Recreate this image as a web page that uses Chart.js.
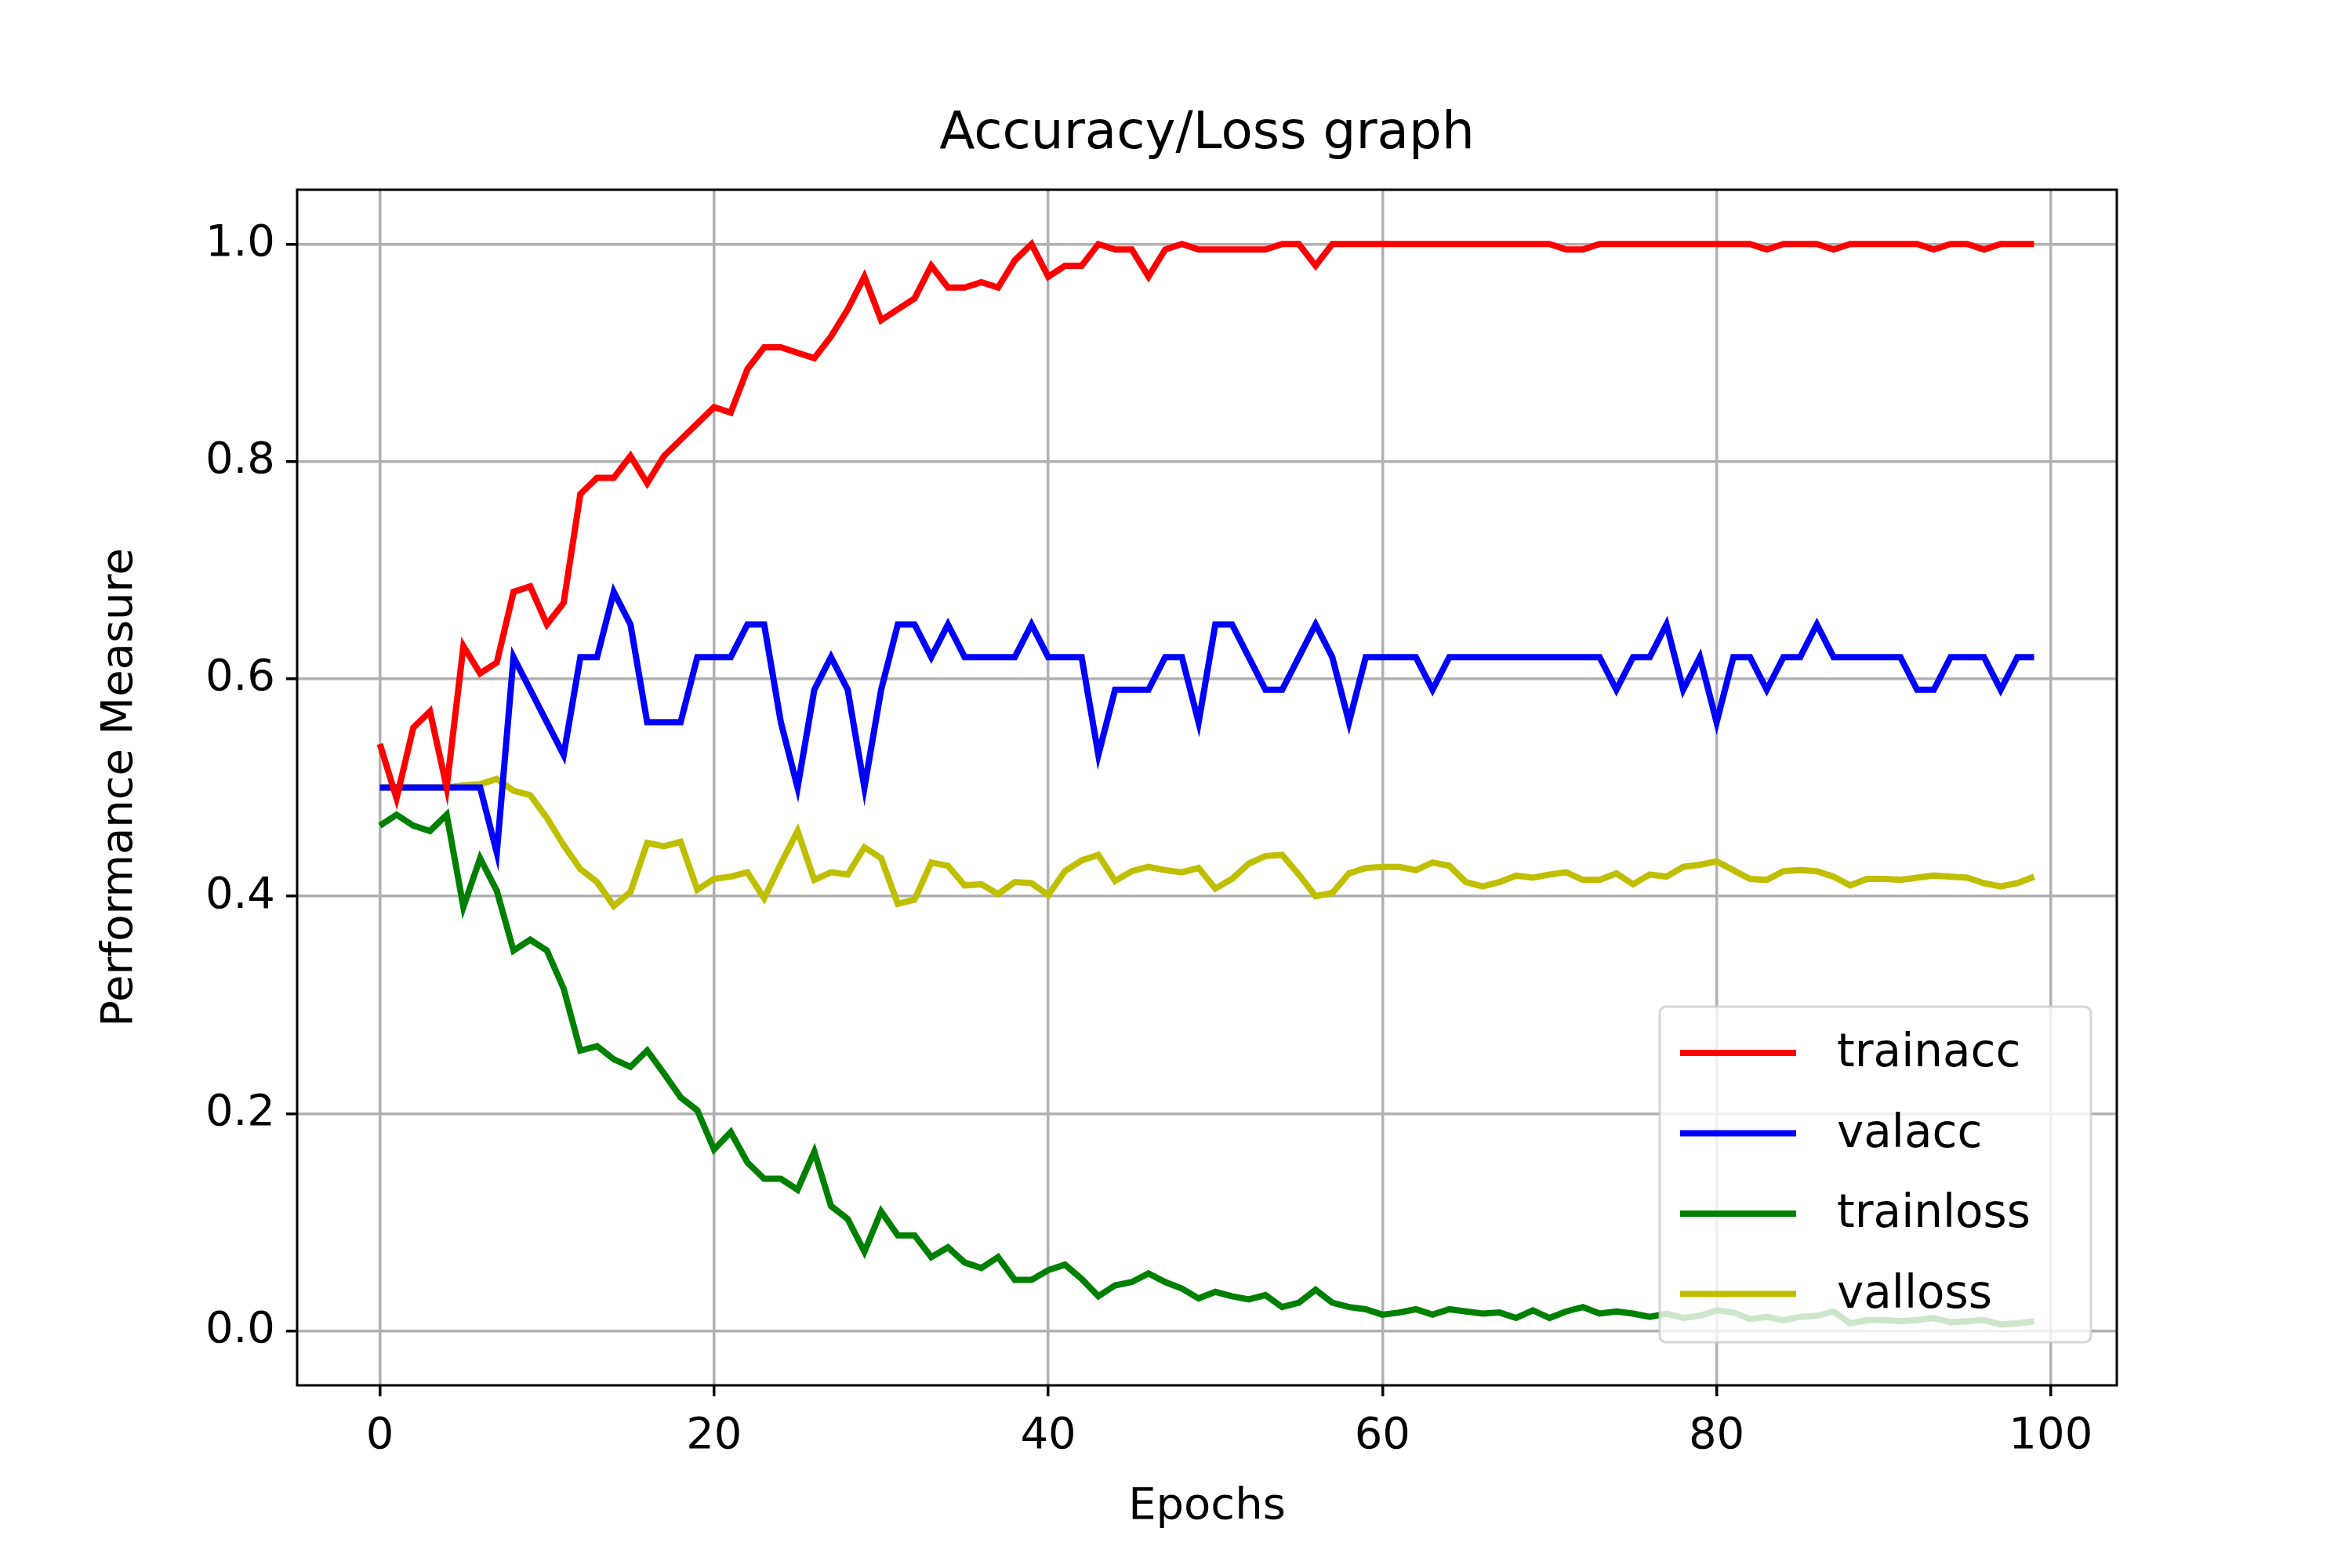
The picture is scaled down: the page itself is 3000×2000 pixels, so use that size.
<!DOCTYPE html>
<html><head><meta charset="utf-8">
<script src="https://cdn.jsdelivr.net/npm/chart.js@4"></script>
<style>html,body{margin:0;padding:0;background:#fff}#w{width:3000px;height:2000px}</style>
</head><body><div id="w"><canvas id="c" width="3000" height="2000"></canvas></div>
<script>
const epochs = Array.from({length:100},(_, i)=>i);
const trainacc = [0.54,0.49,0.555,0.57,0.50,0.63,0.605,0.615,0.68,0.685,0.65,0.67,0.77,0.785,0.785,0.805,0.78,0.805,0.82,0.835,0.85,0.845,0.885,0.905,0.905,0.9,0.895,0.915,0.94,0.97,0.93,0.94,0.95,0.98,0.96,0.96,0.965,0.96,0.985,1.0,0.97,0.98,0.98,1.0,0.995,0.995,0.97,0.995,1.0,0.995,0.995,0.995,0.995,0.995,1.0,1.0,0.98,1,1,1,1,1,1,1,1,1,1,1,1,1,1,0.995,0.995,1,1,1,1,1,1,1,1,1,1,0.995,1,1,1,0.995,1,1,1,1,1,0.995,1,1,0.995,1,1,1];
const valacc = [0.5,0.5,0.5,0.5,0.5,0.5,0.5,0.44,0.62,0.59,0.56,0.53,0.62,0.62,0.68,0.65,0.56,0.56,0.56,0.62,0.62,0.62,0.65,0.65,0.56,0.5,0.59,0.62,0.59,0.5,0.59,0.65,0.65,0.62,0.65,0.62,0.62,0.62,0.62,0.65,0.62,0.62,0.62,0.53,0.59,0.59,0.59,0.62,0.62,0.56,0.65,0.65,0.62,0.59,0.59,0.62,0.65,0.62,0.56,0.62,0.62,0.62,0.62,0.59,0.62,0.62,0.62,0.62,0.62,0.62,0.62,0.62,0.62,0.62,0.59,0.62,0.62,0.65,0.59,0.62,0.56,0.62,0.62,0.59,0.62,0.62,0.65,0.62,0.62,0.62,0.62,0.62,0.59,0.59,0.62,0.62,0.62,0.59,0.62,0.62];
const trainloss = [0.465,0.475,0.465,0.46,0.475,0.39,0.435,0.405,0.35,0.36,0.35,0.315,0.258,0.262,0.25,0.243,0.258,0.237,0.215,0.203,0.167,0.183,0.155,0.14,0.14,0.13,0.165,0.115,0.103,0.073,0.11,0.088,0.088,0.068,0.077,0.063,0.058,0.068,0.047,0.047,0.056,0.061,0.048,0.032,0.042,0.045,0.053,0.045,0.039,0.03,0.036,0.032,0.029,0.033,0.022,0.026,0.038,0.026,0.022,0.02,0.015,0.017,0.02,0.015,0.02,0.018,0.016,0.017,0.012,0.019,0.012,0.018,0.022,0.016,0.018,0.016,0.013,0.016,0.012,0.014,0.019,0.017,0.011,0.013,0.01,0.013,0.014,0.018,0.007,0.01,0.01,0.009,0.01,0.012,0.008,0.009,0.01,0.006,0.007,0.009];
const valloss = [0.5,0.5,0.5,0.5,0.5,0.502,0.503,0.508,0.497,0.493,0.472,0.447,0.425,0.413,0.391,0.404,0.449,0.446,0.45,0.406,0.416,0.418,0.422,0.398,0.43,0.46,0.415,0.422,0.42,0.445,0.435,0.393,0.397,0.431,0.428,0.41,0.411,0.402,0.413,0.412,0.401,0.423,0.433,0.438,0.414,0.423,0.427,0.424,0.422,0.426,0.407,0.416,0.43,0.437,0.438,0.42,0.4,0.403,0.421,0.426,0.427,0.427,0.424,0.431,0.428,0.413,0.409,0.413,0.419,0.417,0.42,0.422,0.415,0.415,0.421,0.411,0.42,0.418,0.427,0.429,0.432,0.424,0.416,0.415,0.423,0.424,0.423,0.418,0.41,0.416,0.416,0.415,0.417,0.419,0.418,0.417,0.412,0.409,0.412,0.418];
const xTicks = [0,20,40,60,80,100];
const yTicks = [0,0.2,0.4,0.6,0.8,1.0];
const names = ['trainacc','valacc','trainloss','valloss'];
const colors = ['#ff0000','#0000ff','#008000','#bfbf00'];
const series = [trainacc,valacc,trainloss,valloss];
const FONT = 'DejaVu Sans';

const deco = {
  id:'deco',
  afterDatasetsDraw(chart){
    const ctx = chart.ctx, a = chart.chartArea;
    ctx.save();
    const lx=2117, ly=1284, lw=550, lh=428;
    ctx.beginPath();
    ctx.roundRect(lx,ly,lw,lh,8);
    ctx.fillStyle='rgba(255,255,255,0.8)'; ctx.fill();
    ctx.strokeStyle='rgba(204,204,204,0.8)'; ctx.lineWidth=3; ctx.stroke();
    ctx.font = '58px "'+FONT+'"'; ctx.textBaseline='middle'; ctx.textAlign='left';
    chart.data.datasets.forEach((d,i)=>{
      const y = 1343 + i*102.5;
      ctx.strokeStyle=d.borderColor; ctx.lineWidth=8;
      ctx.beginPath(); ctx.moveTo(2143,y); ctx.lineTo(2291,y); ctx.stroke();
      ctx.fillStyle='#000'; ctx.fillText(d.label,2343,y+2);
    });
    ctx.strokeStyle='#000'; ctx.lineWidth=3;
    ctx.strokeRect(a.left,a.top,a.right-a.left,a.bottom-a.top);
    ctx.font='66px "'+FONT+'"'; ctx.textAlign='center'; ctx.fillStyle='#000';
    ctx.fillText('Accuracy/Loss graph',(a.left+a.right)/2,172);
    ctx.restore();
  }
};

new Chart(document.getElementById('c'),{
  type:'line',
  data:{datasets: names.map((n,i)=>({label:n,data:epochs.map((e,j)=>({x:e,y:series[i][j]})),borderColor:colors[i],borderWidth:8,pointRadius:0,tension:0,fill:false}))},
  options:{
    responsive:false,animation:false,devicePixelRatio:1,
    layout:{padding:{top:242,right:300,left:0,bottom:0}},
    plugins:{legend:{display:false},title:{display:false},tooltip:{enabled:false}},
    scales:{
      x:{type:'linear',min:-4.95,max:103.95,
        afterBuildTicks(s){s.ticks=xTicks.map(v=>({value:v}));},
        afterFit(s){s.height=233;},
        grid:{color:'#b0b0b0',lineWidth:3.5,tickLength:14,tickColor:'#000',drawTicks:true},
        border:{display:false},
        ticks:{font:{family:FONT,size:56},color:'#000',padding:18,maxRotation:0},
        title:{display:true,text:'Epochs',font:{family:FONT,size:56},color:'#000',padding:{top:0,bottom:44}}
      },
      y:{type:'linear',min:-0.05,max:1.05,
        afterBuildTicks(s){s.ticks=yTicks.map(v=>({value:v}));},
        afterFit(s){s.width=379;},
        grid:{color:'#b0b0b0',lineWidth:3.5,tickLength:14,tickColor:'#000'},
        border:{display:false},
        ticks:{font:{family:FONT,size:56},color:'#000',padding:14,callback:v=>v.toFixed(1)},
        title:{display:true,text:'Performance Measure',font:{family:FONT,size:56},color:'#000',padding:{top:120,bottom:0}}
      }
    }
  },
  plugins:[deco]
});
</script></body></html>
